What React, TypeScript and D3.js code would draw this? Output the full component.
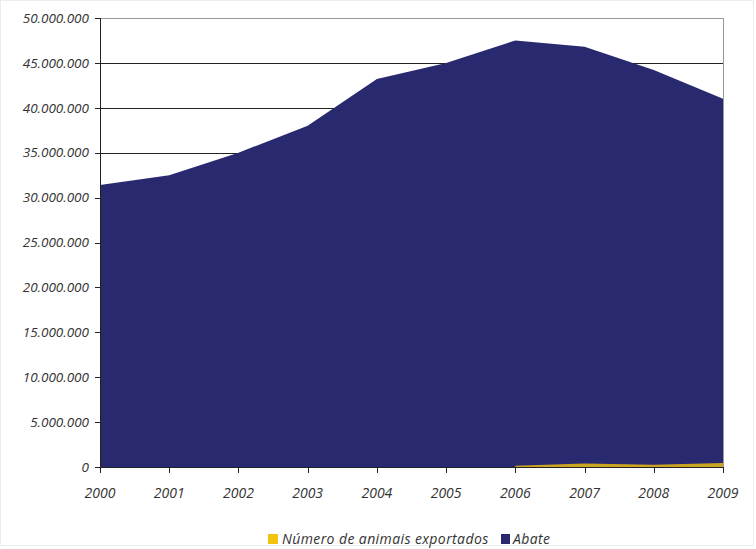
import React from "react";
import * as d3 from "d3";

const years = [2000, 2001, 2002, 2003, 2004, 2005, 2006, 2007, 2008, 2009];
const abate = [31400000, 32500000, 35000000, 38000000, 43200000, 45000000, 47500000, 46800000, 44200000, 41000000];
const exportados = [0, 0, 0, 0, 0, 0, 150000, 400000, 250000, 450000];
const yTicks = [0, 5000000, 10000000, 15000000, 20000000, 25000000, 30000000, 35000000, 40000000, 45000000, 50000000];
const legendLabels = ["Número de animais exportados", "Abate"];

const W = 756, H = 549;
const M = { left: 100, right: 723, top: 18, bottom: 467 };
const font = "'Open Sans', 'DejaVu Sans', sans-serif";
const blue = "#29296f";
const yellow = "#f2c40f";

const fmt = (v: number) => (v === 0 ? "0" : d3.format(",")(v).replace(/,/g, "."));

export default function App() {
  const x = d3.scaleLinear().domain([2000, 2009]).range([M.left, M.right]);
  const y = d3.scaleLinear().domain([0, 50000000]).range([M.bottom, M.top]);
  const area = d3.area<number>().x((_, i) => x(years[i])).y0(y(0)).y1((d) => y(d));
  const expIdx = exportados.map((_, i) => i).filter((i) => years[i] >= 2006);
  const expArea = d3.area<number>().x((i) => x(years[i])).y0(y(0)).y1((i) => y(exportados[i]));

  return (
    <svg width={W} height={H} style={{ position: "absolute", left: 0, top: 0, background: "#fff" }}>
      <rect x={0.5} y={0.5} width={W - 3} height={H - 4} fill="#fff" stroke="#ececec" />
      {yTicks.slice(1, -1).map((t) => (
        <line key={t} x1={M.left} x2={M.right} y1={Math.round(y(t)) + 0.5} y2={Math.round(y(t)) + 0.5} stroke="#222" strokeWidth={1.2} />
      ))}
      <path d={area(abate) || ""} fill={blue} />
      <path d={expArea(expIdx) || ""} fill={yellow} opacity={0.8} />
      <line x1={M.left} x2={M.right} y1={M.top + 0.5} y2={M.top + 0.5} stroke="#999" />
      <line x1={M.right + 0.5} x2={M.right + 0.5} y1={M.top} y2={M.bottom} stroke="#999" />
      <line x1={M.left + 0.5} x2={M.left + 0.5} y1={M.top} y2={M.bottom} stroke="#222" />
      <line x1={M.left} x2={M.right} y1={M.bottom + 0.5} y2={M.bottom + 0.5} stroke="#222" />
      {yTicks.map((t) => (
        <g key={t}>
          <line x1={M.left - 5} x2={M.left} y1={Math.round(y(t)) + 0.5} y2={Math.round(y(t)) + 0.5} stroke="#222" />
          <text x={M.left - 11} y={y(t)} dy="0.35em" textAnchor="end" fontFamily={font} fontStyle="italic" fontSize={13.5} fill="#333">
            {fmt(t)}
          </text>
        </g>
      ))}
      {years.map((yr) => (
        <g key={yr}>
          <line x1={Math.round(x(yr)) + 0.5} x2={Math.round(x(yr)) + 0.5} y1={M.bottom} y2={M.bottom + 6} stroke="#222" />
          <text x={x(yr)} y={M.bottom + 31} textAnchor="middle" fontFamily={font} fontStyle="italic" fontSize={14} fill="#333">
            {yr}
          </text>
        </g>
      ))}
      <rect x={268} y={534} width={10} height={10} fill={yellow} />
      <text x={282} y={544} fontFamily={font} fontStyle="italic" fontSize={14} letterSpacing={0.4} fill="#333">{legendLabels[0]}</text>
      <rect x={501} y={534} width={9} height={10} fill={blue} />
      <text x={513} y={544} fontFamily={font} fontStyle="italic" fontSize={14} letterSpacing={0.4} fill="#333">{legendLabels[1]}</text>
    </svg>
  );
}
